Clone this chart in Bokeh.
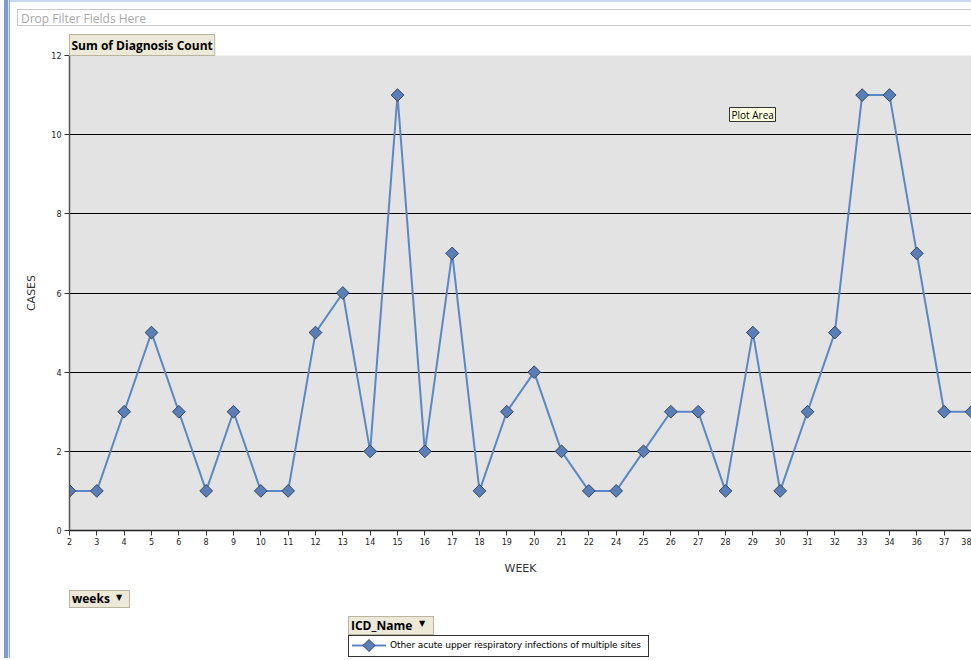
import numpy as np
from bokeh.plotting import figure
from bokeh.layouts import column
from bokeh.models import (Range1d, FixedTicker, Label, BoxAnnotation, Div, Title)
from bokeh.embed import file_html
from bokeh.resources import INLINE

# ---- data ----
weeks = [2, 3, 4, 5, 6, 8, 9, 10, 11, 12, 13, 14, 15, 16, 17, 18, 19, 20, 21, 22,
         24, 25, 26, 27, 28, 29, 30, 31, 32, 33, 34, 36, 37, 38]
cases = [1, 1, 3, 5, 3, 1, 3, 1, 1, 5, 6, 2, 11, 2, 7, 1, 3, 4, 2, 1,
         1, 2, 3, 3, 1, 5, 1, 3, 5, 11, 11, 7, 3, 3]
y_ticks = [0, 2, 4, 6, 8, 10, 12]
series_name = "Other acute upper respiratory infections of multiple sites"

idx = list(range(len(weeks)))

W = 971
TOP_H = 28
FL, FT, FB = 69, 55, 530      # frame left / top / bottom, page coords
FIG_BOTTOM = 580
PAGE_H = 658
H = FIG_BOTTOM - TOP_H
BOT_H = PAGE_H - FIG_BOTTOM

HAS_TPAD = "padding" in Title.properties()

BTN = ("position:absolute;box-sizing:border-box;border:1px solid #B8B4A0;background:#ECE9D8;"
       "font-family:'Open Sans';font-size:12px;font-weight:bold;color:black;white-space:nowrap;")
TRI = "position:absolute;font-family:'DejaVu Sans';font-size:8px;color:black;"

top = Div(width=W, height=TOP_H, margin=(0, 0, 0, 0), text=(
    '<div style="position:relative;width:971px;height:28px;overflow:hidden;">'
    '<div style="position:absolute;left:10px;top:0;width:961px;height:2px;background:#C9D8EE;"></div>'
    '<div style="position:absolute;left:17px;top:9px;width:990px;height:17px;'
    'border:1px solid #C8C8C8;background:white;font-family:\'Open Sans\';font-size:12px;'
    'line-height:17px;color:#A8A8A8;padding-left:3px;">Drop Filter Fields Here</div>'
    '</div>'))

p = figure(width=W, height=H, output_backend="svg", toolbar_location=None,
           x_range=Range1d(0, len(weeks) - 1), y_range=Range1d(0, 12),
           title="Sum of Diagnosis Count",
           min_border_left=FL, min_border_top=FT - TOP_H, min_border_right=0,
           min_border_bottom=FIG_BOTTOM - FB)
p.background_fill_color = "#E3E3E3"
p.border_fill_color = None
p.outline_line_color = None

# data field button ("Sum of Diagnosis Count") as the title
t = p.title
t.align = "left"
t.offset = 0
t.standoff = 0
t.text_font = "Open Sans"
t.text_font_size = "12px"
t.text_font_style = "bold"
t.text_color = "black"
t.background_fill_color = "#ECE9D8"
t.border_line_color = "#B8B4A0"
if HAS_TPAD:
    t.padding = 2

# axes
p.xaxis.ticker = FixedTicker(ticks=idx)
p.xaxis.major_label_overrides = {i: str(w) for i, w in enumerate(weeks)}
p.yaxis.ticker = FixedTicker(ticks=y_ticks)
for ax in (p.xaxis, p.yaxis):
    ax.axis_line_color = "#555555"
    ax.axis_line_width = 1.5
    ax.major_tick_line_color = "#333333"
    ax.major_tick_out = 5
    ax.major_tick_in = 0
    ax.minor_tick_line_color = None
    ax.major_label_text_font = "DejaVu Sans"
    ax.major_label_text_font_size = "8px"
    ax.major_label_text_color = "#222222"
    ax.axis_label_text_font = "DejaVu Sans"
    ax.axis_label_text_font_size = "11px"
    ax.axis_label_text_font_style = "normal"
    ax.axis_label_text_color = "#333333"
p.xaxis.axis_line_color = "#222222"
p.xaxis.axis_label = "WEEK"
p.yaxis.axis_label = "CASES"
p.xaxis.major_label_standoff = 2
p.xaxis.axis_label_standoff = 14
p.yaxis.major_label_standoff = 3
p.yaxis.axis_label_standoff = 10

p.xgrid.grid_line_color = None
p.ygrid.grid_line_color = "black"
p.ygrid.grid_line_width = 1

# series
ln = p.line(idx, cases, line_color="#5B87C6", line_width=2)
mk = p.scatter(idx, cases, marker="square", angle=np.pi / 4, size=9,
               fill_color="#5A7FB8", line_color="#34445C", line_width=1)

# "Plot Area" tooltip (inside the frame)
p.add_layout(BoxAnnotation(left=729 - FL, right=775 - FL, top=FB - 107, bottom=FB - 121,
                           left_units="screen", right_units="screen",
                           top_units="screen", bottom_units="screen",
                           fill_color="#FFFFE1", fill_alpha=1, line_color="#333333",
                           line_width=1, line_alpha=1))
p.add_layout(Label(x=731 - FL, y=FB - 114, x_units="screen", y_units="screen",
                   text="Plot Area", text_font="Open Sans", text_font_size="10px",
                   text_color="black", text_baseline="middle"))

# bottom: field buttons and legend (page y - FIG_BOTTOM)
def yb(py):
    return py - FIG_BOTTOM

bottom = Div(width=W, height=BOT_H, margin=(0, 0, 0, 0), text=(
    f'<div style="position:relative;width:971px;height:{BOT_H}px;">'
    # weeks button
    f'<div style="{BTN}left:69px;top:{yb(590)}px;width:61px;height:18px;'
    'line-height:16px;padding-left:2px;">weeks</div>'
    f'<div style="{TRI}left:116px;top:{yb(592)}px;">&#9660;</div>'
    # ICD_Name button
    f'<div style="{BTN}left:348px;top:{yb(616)}px;width:86px;height:19px;'
    'line-height:17px;padding-left:2px;">ICD_Name</div>'
    f'<div style="{TRI}left:419px;top:{yb(618)}px;">&#9660;</div>'
    # legend
    f'<div style="position:absolute;box-sizing:border-box;left:348px;top:{yb(635)}px;'
    'width:301px;height:22px;border:1.5px solid #333333;background:white;">'
    '<svg width="40" height="19" style="position:absolute;left:2px;top:0;">'
    '<line x1="1" y1="9.5" x2="35" y2="9.5" stroke="#5B87C6" stroke-width="2"/>'
    '<polygon points="18,3.5 24,9.5 18,15.5 12,9.5" fill="#5A7FB8" stroke="#34445C" stroke-width="1"/>'
    '</svg>'
    '<span style="position:absolute;left:41px;top:0;line-height:19px;'
    'font-family:\'DejaVu Sans\';font-size:9px;letter-spacing:-0.1px;color:black;white-space:nowrap;">'
    + series_name + '</span></div>'
    '</div>'))

layout = column(top, p, bottom, spacing=0, margin=(0, 0, 0, 0),
                styles={"background": "linear-gradient(to right, white 0px, white 4px, "
                        "#7E9CCB 4px, #7E9CCB 8px, #DCE5F2 8px, #DCE5F2 9px, "
                        "#8FA6CC 9px, #8FA6CC 10px, white 10px)"})
open("out.html", "w").write(file_html(layout, INLINE))
